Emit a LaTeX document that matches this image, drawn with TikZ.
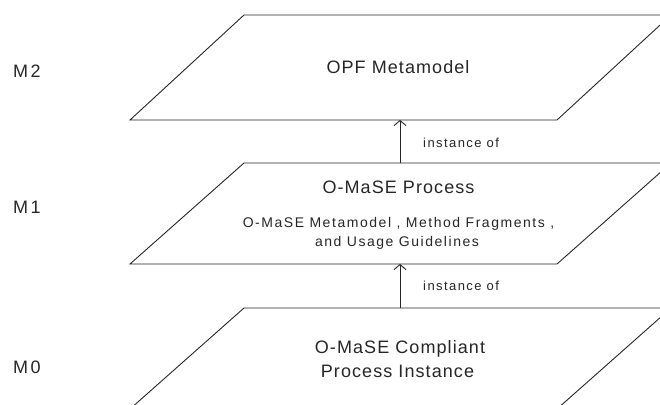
\documentclass[tikz,border=0pt]{standalone}
\usepackage{fontspec}
\setmainfont{Liberation Sans}[LetterSpace=6]
\newfontfamily\spreadfont{Liberation Sans}[LetterSpace=11]
\newfontfamily\levelfont{Liberation Sans}[LetterSpace=14]
\usetikzlibrary{arrows.meta}
\tikzset{
  plane/.style={draw=black!85, line width=0.9pt, line join=miter},
  big/.style={anchor=base, font=\fontsize{18}{21}\selectfont, text=black!85, inner sep=0pt},
  small/.style={anchor=base, font=\spreadfont\fontsize{14}{17}\selectfont, text=black!85, inner sep=0pt},
  lbl/.style={anchor=base west, font=\spreadfont\fontsize{13}{15}\selectfont, text=black!85, inner sep=0pt},
  lvl/.style={anchor=base west, font=\levelfont\fontsize{18}{21}\selectfont, text=black!85, inner sep=0pt},
  inst/.style={draw=black!85, line width=0.9pt, -{Straight Barb[length=5pt,width=12pt,line width=0.9pt]}}
}
\begin{document}
\begin{tikzpicture}[x=1pt, y=-1pt]
\useasboundingbox (0,0) rectangle (660,404);
\clip (0,0) rectangle (660,404);

% the three stacked model planes
\draw[plane] (130,120) -- (244,15) -- (671,15) -- (557,120) -- cycle;
\draw[plane] (130,264) -- (244,163) -- (671,163) -- (557,264) -- cycle;
\draw[plane] (130,409) -- (244,308) -- (671,308) -- (557,409) -- cycle;

% arrow end points on the plane edges
\coordinate (m2bot) at (400,120);
\coordinate (m1top) at (400,163);
\coordinate (m1bot) at (400,264);
\coordinate (m0top) at (400,308);

% plane contents
\node[big] (opf) at (398,74) {OPF Metamodel};
\node[big] (proc) at (398.5,193) {O-MaSE Process};
\node[small] (desc1) at (398.5,227) {O-MaSE Metamodel , Method Fragments ,};
\node[small] (desc2) at (397,246.5) {and Usage Guidelines};
\node[big] (comp1) at (400,353) {O-MaSE Compliant};
\node[big] (comp2) at (397.5,377.5) {Process Instance};

% level names
\node[lvl] (m2) at (13,77) {M2};
\node[lvl] (m1) at (13,213) {M1};
\node[lvl] (m0) at (13,373) {M0};

% instance-of relations
\draw[inst] (m1top) -- (m2bot);
\draw[inst] (m0top) -- (m1bot);
\node[lbl] (io1) at (423,147) {instance of};
\node[lbl] (io2) at (423,290) {instance of};
\end{tikzpicture}
\end{document}
